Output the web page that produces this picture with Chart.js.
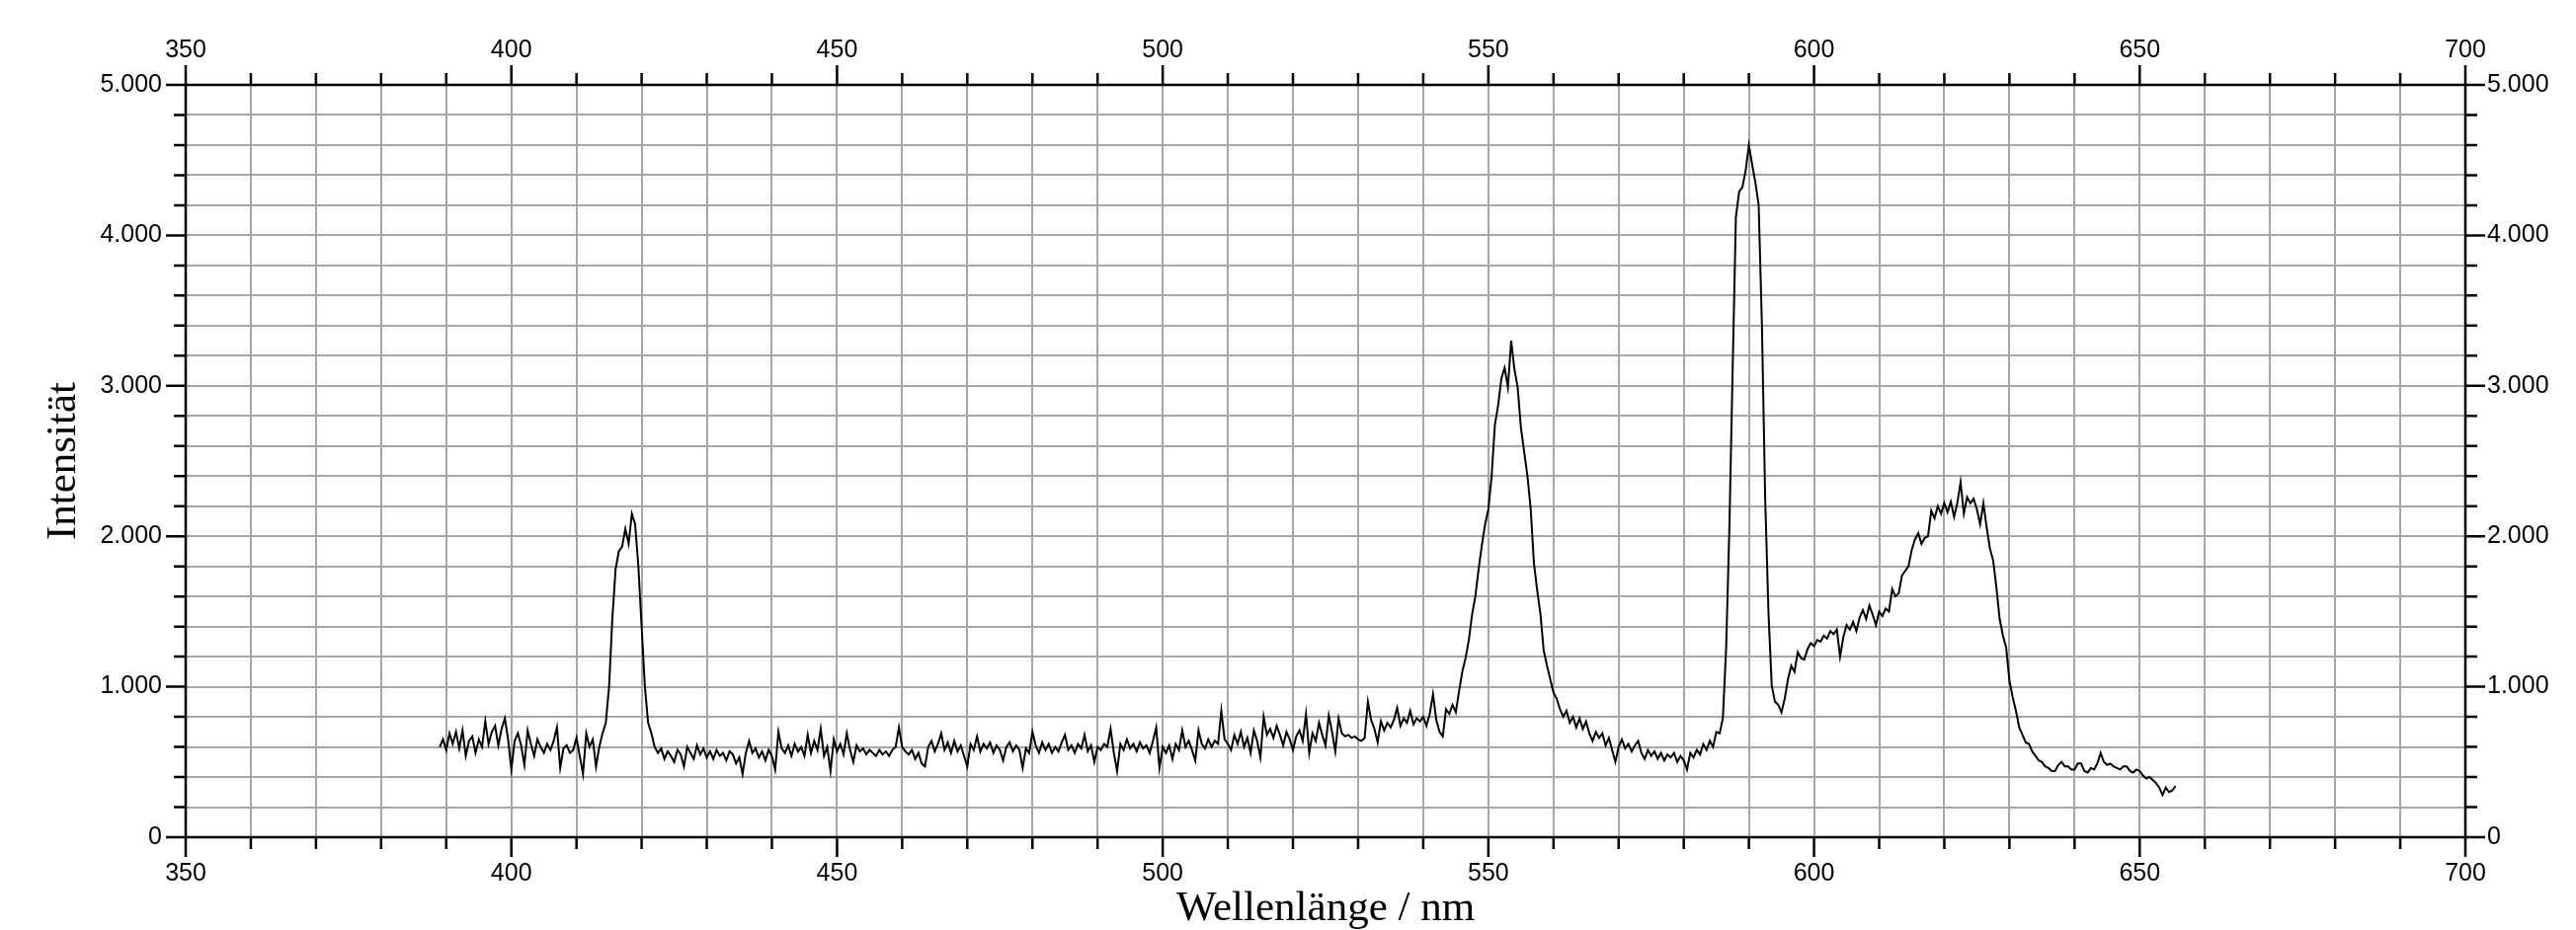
<!DOCTYPE html>
<html>
<head>
<meta charset="utf-8">
<script src="https://cdn.jsdelivr.net/npm/chart.js@4.4.0/dist/chart.umd.min.js"></script>
<style>
  html, body { margin: 0; padding: 0; background: #fff; }
  #spectrum { display: block; }
</style>
</head>
<body>
<canvas id="spectrum" width="2608" height="942"></canvas>
<script>
// wavelength axis (nm) and intensity axis
const xMin = 350, xMax = 700, xStep = 10;
const yMin = 0, yMax = 5000, yStep = 200;
const xLabelValues = [350, 400, 450, 500, 550, 600, 650, 700];
const yLabelValues = [0, 1000, 2000, 3000, 4000, 5000];

// spectrum, one value every 0.5 nm
const sampleStep = 0.5;

const violetStart = 389;
const violetValues = [
  600, 650, 580, 690, 620, 700, 590, 710, 540, 640,
  670, 560, 650, 600, 770, 620, 700, 740, 610, 720,
  790, 650, 450, 640, 690, 610, 480, 710, 620, 540,
  650, 600, 560, 620, 580, 640, 730, 460, 590, 610,
  560, 580, 660, 540, 420, 690, 600, 650, 470, 600,
  690, 760, 1000, 1450, 1780, 1900, 1930, 2050, 1950, 2150,
  2080, 1800, 1400, 1000, 760, 690, 600, 560, 590, 520,
  570, 540, 500, 580, 550, 470, 600, 560, 520, 610
];

const plateauStart = 429;
const plateauValues = [
  550, 590, 530, 570, 520, 580, 540, 560, 510, 570,
  550, 490, 530, 420, 560, 640, 560, 590, 530, 570,
  510, 580, 540, 450, 700, 590, 560, 610, 540, 620,
  570, 600, 540, 680, 560, 640, 580, 720, 540, 600,
  440, 650, 570, 620, 550, 690, 580, 500, 610, 570,
  590, 550, 580, 560, 540, 580, 550, 570, 540, 580,
  600, 730, 600, 570, 550, 580, 520, 560, 490, 470,
  600, 640, 570, 620, 690, 580, 630, 560, 640, 570,
  610, 540, 470, 620, 580, 670, 570, 620, 590, 630,
  560, 610, 580, 510, 600, 630, 570, 610, 580, 460,
  590, 560, 700, 610, 560, 630, 580, 620, 560, 600,
  570, 630, 680, 580, 610, 560, 620, 590, 680, 570,
  610, 500, 600, 580, 620, 600, 720, 560, 440, 620,
  580, 650, 590, 620, 570, 630, 590, 610, 560, 640
];

const greenStart = 499;
const greenValues = [
  730, 460, 600, 560, 610, 520, 620, 580, 710, 600,
  640, 580, 510, 710, 620, 590, 650, 600, 640, 620,
  840, 650, 620, 580, 680, 620, 700, 600, 660, 560,
  710, 640, 530, 800, 680, 720, 660, 740, 680, 610,
  700, 650, 580, 670, 710, 640, 820, 560, 690, 640,
  760, 680, 610, 810, 700, 570, 790, 690, 670, 680,
  660, 670, 650, 640, 660, 900, 780, 720, 630, 770,
  710, 760, 730, 780, 860, 740, 790, 760, 840, 750,
  790, 770, 800, 740, 820, 950, 780, 700, 670, 850,
  820, 880, 830, 970, 1100, 1190, 1310, 1480, 1600, 1780,
  1940, 2080, 2180, 2400, 2740, 2870, 3050, 3120, 2990, 3300,
  3110, 2990, 2720, 2560, 2400, 2180, 1820, 1640, 1480, 1240,
  1140, 1050, 960, 920, 850, 800, 840, 760, 800, 730,
  790, 720, 770, 690, 640, 700, 660, 690, 610, 660,
  580, 500, 600, 650, 590, 620, 570, 610, 640, 560,
  520, 580, 540, 570, 520, 560, 510, 550, 530, 560,
  500, 540, 510, 450, 560, 530, 580, 550, 620, 580
];

const yellowStart = 584;
const yellowValues = [
  640, 600, 700, 690, 790, 1250, 2050, 3100, 4120, 4290,
  4320, 4430, 4600, 4470, 4350, 4200, 3400, 2250, 1500, 1010,
  900, 880, 830, 920, 1050, 1140, 1100, 1230, 1190, 1180,
  1250, 1290, 1270, 1310, 1300, 1340, 1320, 1370, 1350, 1380,
  1200, 1330, 1410, 1380, 1430, 1370, 1460, 1510, 1450, 1540,
  1480, 1410, 1500, 1470, 1520, 1500, 1650, 1600, 1620, 1740
];

const redStart = 614;
const redValues = [
  1770, 1800, 1910, 1980, 2020, 1950, 1990, 2000, 2170, 2120,
  2200, 2150, 2220, 2160, 2230, 2130, 2220, 2360, 2150, 2260,
  2220, 2250, 2180, 2080, 2220, 2060, 1920, 1840, 1660, 1450,
  1340, 1260, 1040, 930, 840, 730, 680, 630, 620, 570,
  540, 510, 500, 470, 460, 440, 440, 480, 500, 470,
  470, 450, 450, 490, 490, 440, 430, 460, 450, 490,
  560, 500, 480, 490, 470, 460, 450, 470, 470, 440,
  430, 450, 440, 410, 390, 400, 380, 360, 330, 280,
  330, 300, 310, 340
];

const segments = [
  { start: violetStart, values: violetValues },
  { start: plateauStart, values: plateauValues },
  { start: greenStart, values: greenValues },
  { start: yellowStart, values: yellowValues },
  { start: redStart, values: redValues }
];

const points = [];
segments.forEach((seg) => {
  seg.values.forEach((v, i) => {
    points.push({ x: seg.start + i * sampleStep, y: v });
  });
});

// 5000 -> "5.000"
const formatDe = (n) => String(n).replace(/\B(?=(\d{3})+(?!\d))/g, '.');

const tickFont = { family: 'Liberation Sans', size: 25 };
const titleFont = { family: 'Liberation Serif', size: 43, lineHeight: 1 };
const gridColor = '#a6a6a6';

// black frame plus long/short tick marks on all four sides
const axisFrame = {
  id: 'axisFrame',
  afterDraw(chart) {
    const { ctx, chartArea: a, scales } = chart;
    ctx.save();
    ctx.strokeStyle = '#000';
    ctx.lineWidth = 2.5;
    ctx.beginPath();
    for (let v = xMin; v <= xMax; v += xStep) {
      const x = scales.x.getPixelForValue(v);
      const len = xLabelValues.includes(v) ? 20 : 12;
      ctx.moveTo(x, a.bottom);
      ctx.lineTo(x, a.bottom + len);
      ctx.moveTo(x, a.top);
      ctx.lineTo(x, a.top - len);
    }
    for (let v = yMin; v <= yMax; v += yStep) {
      const y = scales.y.getPixelForValue(v);
      const len = yLabelValues.includes(v) ? 20 : 12;
      ctx.moveTo(a.left, y);
      ctx.lineTo(a.left - len, y);
      ctx.moveTo(a.right, y);
      ctx.lineTo(a.right + len, y);
    }
    ctx.stroke();
    ctx.strokeRect(a.left, a.top, a.right - a.left, a.bottom - a.top);
    ctx.restore();
  }
};

const xLabel = (v) => (xLabelValues.includes(v) ? String(v) : '');
const yLabel = (v) => (yLabelValues.includes(v) ? formatDe(v) : '');

const canvas = document.getElementById('spectrum');
const chart = new Chart(canvas.getContext('2d'), {
  type: 'line',
  data: {
    datasets: [{
      data: points,
      borderColor: '#000',
      borderWidth: 2,
      pointRadius: 0,
      tension: 0,
      fill: false
    }]
  },
  options: {
    responsive: false,
    animation: false,
    devicePixelRatio: 1,
    layout: { padding: 0 },
    plugins: {
      legend: { display: false },
      tooltip: { enabled: false }
    },
    scales: {
      x: {
        type: 'linear',
        position: 'bottom',
        min: xMin,
        max: xMax,
        afterFit: (scale) => { scale.height = 94; },
        ticks: {
          stepSize: xStep,
          autoSkip: false,
          maxRotation: 0,
          padding: 22,
          color: '#000',
          font: tickFont,
          callback: xLabel
        },
        grid: { color: gridColor, lineWidth: 2, drawTicks: false },
        border: { display: false },
        title: {
          display: true,
          text: 'Wellenlänge / nm',
          color: '#000',
          font: titleFont,
          padding: { top: 0, bottom: 0 }
        }
      },
      xTop: {
        type: 'linear',
        position: 'top',
        min: xMin,
        max: xMax,
        afterFit: (scale) => { scale.height = 86; },
        ticks: {
          stepSize: xStep,
          autoSkip: false,
          maxRotation: 0,
          padding: 20,
          color: '#000',
          font: tickFont,
          callback: xLabel
        },
        grid: { display: false, drawTicks: false },
        border: { display: false }
      },
      y: {
        type: 'linear',
        position: 'left',
        min: yMin,
        max: yMax,
        afterFit: (scale) => { scale.width = 188; },
        ticks: {
          stepSize: yStep,
          autoSkip: false,
          padding: 24,
          color: '#000',
          font: tickFont,
          callback: yLabel
        },
        grid: { color: gridColor, lineWidth: 2, drawTicks: false },
        border: { display: false },
        title: {
          display: true,
          text: 'Intensität',
          color: '#000',
          font: titleFont,
          padding: { top: 43, bottom: 0 }
        }
      },
      yRight: {
        type: 'linear',
        position: 'right',
        min: yMin,
        max: yMax,
        afterFit: (scale) => { scale.width = 112; },
        ticks: {
          stepSize: yStep,
          autoSkip: false,
          padding: 22,
          color: '#000',
          font: tickFont,
          callback: yLabel
        },
        grid: { display: false, drawTicks: false },
        border: { display: false }
      }
    }
  },
  plugins: [axisFrame]
});
</script>
</body>
</html>
